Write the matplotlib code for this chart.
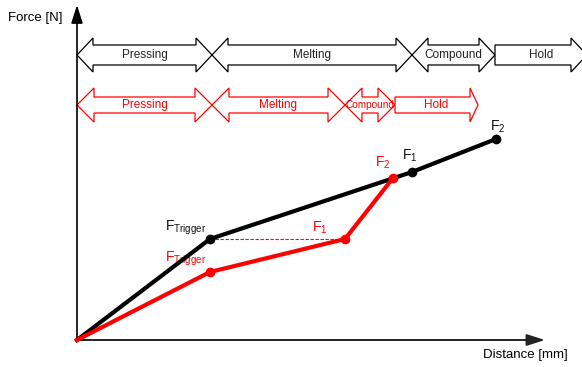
import numpy as np
import matplotlib
matplotlib.use('Agg')
import matplotlib.pyplot as plt
from matplotlib.patches import Polygon

plt.rcParams['font.family'] = ['Liberation Sans', 'DejaVu Sans']
plt.rcParams['mathtext.fontset'] = 'custom'
plt.rcParams['mathtext.rm'] = 'Liberation Sans'
plt.rcParams['mathtext.it'] = 'Liberation Sans:italic'

# process curves (distance, force) - arbitrary units
black_dist = [0, 133, 335, 419]
black_force = [0, 101, 168, 201]
red_dist = [0, 133, 268, 316]
red_force = [0, 68, 101, 162]

black_labels = ['', 'F$_{\\mathrm{Trigger}}$', 'F$_{\\mathrm{1}}$', 'F$_{\\mathrm{2}}$']
red_labels = ['', 'F$_{\\mathrm{Trigger}}$', 'F$_{\\mathrm{1}}$', 'F$_{\\mathrm{2}}$']

# phases
phases = ['Pressing', 'Melting', 'Compound', 'Hold']
black_bounds = [0, 135, 335, 418, 510]
red_bounds = [0, 135, 268, 318, 401]

fig = plt.figure(figsize=(5.82, 3.67), dpi=100)
ax = fig.add_axes([0, 0, 1, 1])
ax.set_xlim(-77, 505)
ax.set_ylim(-27, 340)
ax.axis('off')

# axes arrows
ax.annotate('', xy=(0, 335), xytext=(0, 0),
            arrowprops=dict(arrowstyle='-|>,head_length=1.1,head_width=0.35', color='black', lw=1.2, shrinkA=0, shrinkB=0))
ax.annotate('', xy=(468, 0), xytext=(0, 0),
            arrowprops=dict(arrowstyle='-|>,head_length=1.1,head_width=0.35', color='#222222', lw=1.4, shrinkA=0, shrinkB=0))
ax.text(-69, 322, 'Force [N]', fontsize=9.5, ha='left', va='center')
ax.text(491, -15, 'Distance [mm]', fontsize=9.5, ha='right', va='center')


def phase_arrow(x0, x1, yc, h, H, L, color, left=True, right_L=None):
    R = L if right_L is None else right_L
    pts = []
    if left:
        pts += [(x0, yc), (x0 + L, yc + H), (x0 + L, yc + h)]
    else:
        pts += [(x0, yc - h), (x0, yc + h)]
    pts += [(x1 - R, yc + h), (x1 - R, yc + H), (x1, yc), (x1 - R, yc - H), (x1 - R, yc - h)]
    if left:
        pts += [(x0 + L, yc - h), (x0 + L, yc - H)]
    ax.add_patch(Polygon(pts, closed=True, facecolor='white', edgecolor=color, lw=0.9, zorder=2))


for i, name in enumerate(phases):
    b0, b1 = black_bounds[i], black_bounds[i + 1]
    r0, r1 = red_bounds[i], red_bounds[i + 1]
    hold = name == 'Hold'
    phase_arrow(b0, b1, 285, 10, 17, 16, 'black', left=not hold)
    phase_arrow(r0, r1, 235, 8, 17, 17, 'red', left=not hold, right_L=8 if hold else None)
    ax.text((b0 + b1) / 2, 285, name, fontsize=8.5, ha='center', va='center', color='#222222', zorder=3)
    ax.text((r0 + r1) / 2, 235, name, fontsize=7.2 if name == 'Compound' else 8.5,
            ha='center', va='center', color='red', zorder=3)

# dashed helper line at trigger force
ax.plot([black_dist[1], red_dist[2]], [black_force[1], red_force[2]], color='red', lw=0.8,
        linestyle=(0, (3, 1.5)), zorder=3)

ax.plot(black_dist, black_force, color='black', lw=3, zorder=4)
ax.plot(black_dist[1:], black_force[1:], 'o', color='black', ms=6, zorder=5)
ax.plot(red_dist, red_force, color='red', lw=3, zorder=4)
ax.plot(red_dist[1:], red_force[1:], 'o', color='red', ms=6, zorder=5)

black_off = [None, (-45, 8), (-10, 12), (-6, 8)]
red_off = [None, (-45, 10), (-33, 7), (-18, 11)]
for i in range(1, 4):
    ax.annotate(black_labels[i], (black_dist[i], black_force[i]), xytext=black_off[i],
                textcoords='offset pixels', fontsize=10, ha='left', va='baseline', color='#111111')
    ax.annotate(red_labels[i], (red_dist[i], red_force[i]), xytext=red_off[i],
                textcoords='offset pixels', fontsize=10, ha='left', va='baseline', color='red')

fig.savefig('out.png', dpi=100, facecolor='white')
